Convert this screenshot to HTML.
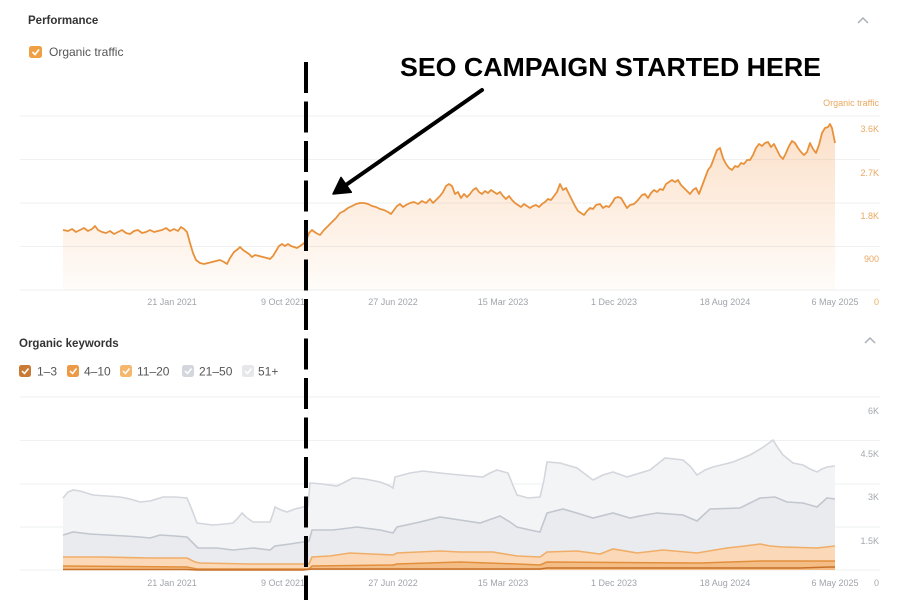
<!DOCTYPE html>
<html>
<head>
<meta charset="utf-8">
<style>
html,body{margin:0;padding:0;background:#fff;}
svg{display:block;font-family:"Liberation Sans",sans-serif;}
</style>
</head>
<body>
<svg width="900" height="600" viewBox="0 0 900 600" xmlns="http://www.w3.org/2000/svg">
<defs>
<linearGradient id="tg" x1="0" y1="0" x2="0" y2="1">
<stop offset="0" stop-color="#f6ad6e" stop-opacity="0.38"/>
<stop offset="1" stop-color="#f6ad6e" stop-opacity="0.04"/>
</linearGradient>
</defs>
<rect width="900" height="600" fill="#fff"/>

<!-- Performance header -->
<text x="28" y="24" font-size="11.5" font-weight="bold" fill="#333">Performance</text>
<polyline points="858,23 863,18 868,23" fill="none" stroke="#aab0b7" stroke-width="1.5"/>
<rect x="29" y="46" width="13" height="12" rx="2.5" fill="#f0a044"/>
<polyline points="32.5,52 35,54.5 39,49.5" fill="none" stroke="#fff" stroke-width="1.6"/>
<text x="49" y="56" font-size="12" fill="#555">Organic traffic</text>

<!-- top gridlines -->
<g stroke="#eef0f2" stroke-width="1">
<line x1="20" y1="116" x2="880" y2="116"/>
<line x1="20" y1="159.5" x2="880" y2="159.5"/>
<line x1="20" y1="203" x2="880" y2="203"/>
<line x1="20" y1="246.5" x2="880" y2="246.5"/>
<line x1="20" y1="290" x2="880" y2="290"/>
</g>
<g font-size="9" fill="#e9a860" text-anchor="end">
<text x="879" y="106">Organic traffic</text>
<text x="879" y="132">3.6K</text>
<text x="879" y="176">2.7K</text>
<text x="879" y="219">1.8K</text>
<text x="879" y="262">900</text>
<text x="879" y="305" fill="#e6b65a">0</text>
</g>
<g font-size="9" fill="#a0a4aa" text-anchor="middle">
<text x="172" y="305">21 Jan 2021</text>
<text x="283" y="305">9 Oct 2021</text>
<text x="393" y="305">27 Jun 2022</text>
<text x="503" y="305">15 Mar 2023</text>
<text x="614" y="305">1 Dec 2023</text>
<text x="725" y="305">18 Aug 2024</text>
<text x="835" y="305">6 May 2025</text>
</g>

<!-- traffic area -->
<path fill="url(#tg)" d="M63,230 L68,231 L72,229 L76,232 L80,230 L84,228 L88,231 L92,229 L95,226 L98,230 L102,232 L106,233 L110,231 L114,234 L118,232 L122,230 L126,233 L130,234 L134,231 L138,230 L142,233 L146,232 L150,230 L154,232 L158,231 L162,230 L166,228 L170,231 L174,229 L178,231 L181,227 L184,229 L187,232 L190,243 L193,253 L196,260 L200,263 L204,264 L208,263 L212,262 L216,261 L220,260 L224,262 L227,264 L230,258 L234,252 L238,249 L240,247 L243,250 L246,252 L249,254 L252,257 L255,255 L259,256 L263,257 L267,258 L270,259 L273,256 L276,251 L279,246 L282,244 L285,246 L288,244 L291,246 L294,247 L297,248 L300,246 L303,244 L306,241 L309,233 L312,230 L316,233 L320,235 L324,230 L328,226 L332,222 L336,218 L340,213 L344,211 L348,208 L352,206 L356,204 L360,203 L364,203 L368,204 L372,206 L376,207 L380,209 L384,210 L388,212 L391,214 L394,210 L397,206 L400,204 L403,207 L406,205 L410,203 L414,202 L418,204 L422,201 L426,203 L430,199 L433,203 L436,200 L440,196 L443,192 L446,186 L449,184 L452,186 L455,194 L458,192 L461,198 L464,194 L467,197 L470,194 L473,190 L476,188 L479,192 L482,194 L485,191 L488,193 L491,190 L494,192 L497,194 L500,192 L503,196 L506,199 L509,196 L512,200 L515,203 L518,205 L521,207 L524,204 L527,206 L530,208 L533,206 L536,205 L539,207 L542,204 L545,202 L548,199 L551,200 L554,196 L557,192 L560,184 L563,190 L566,188 L569,194 L572,200 L575,206 L578,211 L581,213 L584,215 L587,211 L590,208 L593,209 L596,205 L600,204 L603,208 L606,206 L609,207 L612,203 L615,198 L618,197 L621,198 L624,203 L627,208 L630,205 L634,204 L638,200 L642,195 L645,194 L648,198 L651,193 L654,190 L657,192 L660,189 L663,190 L666,184 L669,182 L672,180 L675,182 L678,180 L681,185 L684,188 L687,191 L690,194 L693,190 L696,188 L699,194 L702,186 L705,178 L708,170 L711,166 L714,158 L717,150 L720,148 L723,158 L726,164 L729,168 L732,170 L735,166 L738,167 L741,163 L744,164 L747,160 L750,160 L753,155 L756,148 L759,144 L762,146 L765,143 L768,142 L771,147 L774,144 L777,150 L780,156 L783,159 L786,153 L789,146 L792,141 L795,143 L798,148 L801,152 L804,155 L807,152 L810,143 L813,149 L816,153 L819,145 L822,133 L825,128 L828,127 L830,124 L832,128 L834,138 L835,143 L835,290 L63,290 Z"/>
<polyline fill="none" stroke="#e8913a" stroke-width="1.8" stroke-linejoin="round" points="63,230 68,231 72,229 76,232 80,230 84,228 88,231 92,229 95,226 98,230 102,232 106,233 110,231 114,234 118,232 122,230 126,233 130,234 134,231 138,230 142,233 146,232 150,230 154,232 158,231 162,230 166,228 170,231 174,229 178,231 181,227 184,229 187,232 190,243 193,253 196,260 200,263 204,264 208,263 212,262 216,261 220,260 224,262 227,264 230,258 234,252 238,249 240,247 243,250 246,252 249,254 252,257 255,255 259,256 263,257 267,258 270,259 273,256 276,251 279,246 282,244 285,246 288,244 291,246 294,247 297,248 300,246 303,244 306,241 309,233 312,230 316,233 320,235 324,230 328,226 332,222 336,218 340,213 344,211 348,208 352,206 356,204 360,203 364,203 368,204 372,206 376,207 380,209 384,210 388,212 391,214 394,210 397,206 400,204 403,207 406,205 410,203 414,202 418,204 422,201 426,203 430,199 433,203 436,200 440,196 443,192 446,186 449,184 452,186 455,194 458,192 461,198 464,194 467,197 470,194 473,190 476,188 479,192 482,194 485,191 488,193 491,190 494,192 497,194 500,192 503,196 506,199 509,196 512,200 515,203 518,205 521,207 524,204 527,206 530,208 533,206 536,205 539,207 542,204 545,202 548,199 551,200 554,196 557,192 560,184 563,190 566,188 569,194 572,200 575,206 578,211 581,213 584,215 587,211 590,208 593,209 596,205 600,204 603,208 606,206 609,207 612,203 615,198 618,197 621,198 624,203 627,208 630,205 634,204 638,200 642,195 645,194 648,198 651,193 654,190 657,192 660,189 663,190 666,184 669,182 672,180 675,182 678,180 681,185 684,188 687,191 690,194 693,190 696,188 699,194 702,186 705,178 708,170 711,166 714,158 717,150 720,148 723,158 726,164 729,168 732,170 735,166 738,167 741,163 744,164 747,160 750,160 753,155 756,148 759,144 762,146 765,143 768,142 771,147 774,144 777,150 780,156 783,159 786,153 789,146 792,141 795,143 798,148 801,152 804,155 807,152 810,143 813,149 816,153 819,145 822,133 825,128 828,127 830,124 832,128 834,138 835,143"/>

<!-- Organic keywords header -->
<text x="19" y="347" font-size="11.5" font-weight="bold" fill="#333">Organic keywords</text>
<polyline points="865,343 870,338 875,343" fill="none" stroke="#aab0b7" stroke-width="1.5"/>
<g font-size="12" fill="#555">
<rect x="19" y="365" width="12" height="12" rx="2.5" fill="#c97b36"/>
<polyline points="22,371 24.5,373.5 28.5,368.5" fill="none" stroke="#fff" stroke-width="1.5"/>
<text x="37" y="375.5">1–3</text>
<rect x="67" y="365" width="12" height="12" rx="2.5" fill="#ec9a46"/>
<polyline points="70,371 72.5,373.5 76.5,368.5" fill="none" stroke="#fff" stroke-width="1.5"/>
<text x="84" y="375.5">4–10</text>
<rect x="120" y="365" width="12" height="12" rx="2.5" fill="#f5b76e"/>
<polyline points="123,371 125.5,373.5 129.5,368.5" fill="none" stroke="#fff" stroke-width="1.5"/>
<text x="137" y="375.5">11–20</text>
<rect x="182" y="365" width="12" height="12" rx="2.5" fill="#d3d6dc"/>
<polyline points="185,371 187.5,373.5 191.5,368.5" fill="none" stroke="#fff" stroke-width="1.5"/>
<text x="199" y="375.5">21–50</text>
<rect x="242" y="365" width="12" height="12" rx="2.5" fill="#e5e7ea"/>
<polyline points="245,371 247.5,373.5 251.5,368.5" fill="none" stroke="#fff" stroke-width="1.5"/>
<text x="258" y="375.5">51+</text>
</g>

<!-- bottom gridlines -->
<g stroke="#eef0f2" stroke-width="1">
<line x1="20" y1="397" x2="880" y2="397"/>
<line x1="20" y1="440.5" x2="880" y2="440.5"/>
<line x1="20" y1="484" x2="880" y2="484"/>
<line x1="20" y1="527" x2="880" y2="527"/>
<line x1="20" y1="570" x2="880" y2="570"/>
</g>
<g font-size="9" fill="#a4a8ae" text-anchor="end">
<text x="879" y="414">6K</text>
<text x="879" y="457">4.5K</text>
<text x="879" y="500">3K</text>
<text x="879" y="544">1.5K</text>
<text x="879" y="586">0</text>
</g>
<g font-size="9" fill="#a0a4aa" text-anchor="middle">
<text x="172" y="586">21 Jan 2021</text>
<text x="283" y="586">9 Oct 2021</text>
<text x="393" y="586">27 Jun 2022</text>
<text x="503" y="586">15 Mar 2023</text>
<text x="614" y="586">1 Dec 2023</text>
<text x="725" y="586">18 Aug 2024</text>
<text x="835" y="586">6 May 2025</text>
</g>

<!-- 51+ -->
<path fill="#f3f4f6" d="M63,498 L68,492 L73,490 L80,491 L93,495 L107,496 L120,497 L130,499 L140,502 L150,501 L163,497 L175,497 L187,498 L192,510 L197,523 L213,525 L225,524 L233,523 L238,518 L242,513 L246,517 L253,522 L262,522 L270,522 L273,514 L275,507 L281,510 L287,512 L295,509 L303,507 L308,506 L310,483 L322,484 L337,486 L345,482 L353,478 L365,479 L380,482 L390,486 L393,488 L395,477 L410,473 L423,471 L440,473 L460,475 L483,477 L490,473 L497,470 L508,473 L512,483 L517,495 L528,498 L540,497 L544,480 L547,462 L560,463 L577,468 L585,474 L593,480 L603,475 L613,472 L627,477 L640,473 L650,470 L665,458 L683,460 L690,466 L697,475 L705,470 L713,467 L733,462 L750,455 L762,448 L773,440 L778,448 L783,455 L793,463 L803,465 L810,469 L817,472 L822,469 L827,467 L835,466 L835,570 L63,570 Z"/>
<polyline fill="none" stroke="#d3d6dc" stroke-width="1.6" points="63,498 68,492 73,490 80,491 93,495 107,496 120,497 130,499 140,502 150,501 163,497 175,497 187,498 192,510 197,523 213,525 225,524 233,523 238,518 242,513 246,517 253,522 262,522 270,522 273,514 275,507 281,510 287,512 295,509 303,507 308,506 310,483 322,484 337,486 345,482 353,478 365,479 380,482 390,486 393,488 395,477 410,473 423,471 440,473 460,475 483,477 490,473 497,470 508,473 512,483 517,495 528,498 540,497 544,480 547,462 560,463 577,468 585,474 593,480 603,475 613,472 627,477 640,473 650,470 665,458 683,460 690,466 697,475 705,470 713,467 733,462 750,455 762,448 773,440 778,448 783,455 793,463 803,465 810,469 817,472 822,469 827,467 835,466"/>

<!-- 21-50 -->
<path fill="#e9ebee" d="M63,535 L73,532 L90,534 L107,535 L125,536 L140,537 L150,538 L160,535 L175,536 L187,537 L193,543 L198,548 L217,548 L233,550 L253,548 L270,550 L275,546 L290,544 L303,542 L309,541 L312,530 L333,530 L357,527 L380,530 L393,533 L397,527 L420,522 L440,517 L460,520 L480,523 L500,516 L510,522 L517,527 L530,530 L540,532 L547,513 L563,509 L580,514 L593,518 L613,513 L630,518 L645,515 L657,513 L683,515 L697,521 L710,509 L740,508 L760,498 L775,497 L787,502 L803,503 L817,507 L827,498 L835,499 L835,570 L63,570 Z"/>
<polyline fill="none" stroke="#c2c7cf" stroke-width="1.6" points="63,535 73,532 90,534 107,535 125,536 140,537 150,538 160,535 175,536 187,537 193,543 198,548 217,548 233,550 253,548 270,550 275,546 290,544 303,542 309,541 312,530 333,530 357,527 380,530 393,533 397,527 420,522 440,517 460,520 480,523 500,516 510,522 517,527 530,530 540,532 547,513 563,509 580,514 593,518 613,513 630,518 645,515 657,513 683,515 697,521 710,509 740,508 760,498 775,497 787,502 803,503 817,507 827,498 835,499"/>

<!-- 11-20 -->
<path fill="#fbd9b8" d="M63,557 L100,557 L150,558 L187,558 L195,562 L200,563 L250,564 L303,564 L309,564 L312,557 L330,556 L350,553 L393,555 L397,553 L440,551 L460,552 L493,552 L517,556 L540,557 L547,552 L577,551 L600,554 L613,549 L637,553 L663,550 L697,553 L727,548 L745,546 L760,544 L770,546 L783,547 L817,548 L835,546 L835,570 L63,570 Z"/>
<polyline fill="none" stroke="#f0ad68" stroke-width="1.6" points="63,557 100,557 150,558 187,558 195,562 200,563 250,564 303,564 309,564 312,557 330,556 350,553 393,555 397,553 440,551 460,552 493,552 517,556 540,557 547,552 577,551 600,554 613,549 637,553 663,550 697,553 727,548 745,546 760,544 770,546 783,547 817,548 835,546"/>

<!-- 4-10 -->
<path fill="#f4bd85" d="M63,566 L187,567 L197,569 L303,569 L309,569 L312,566 L393,565 L397,564 L460,562 L517,564 L540,565 L547,562 L700,563 L760,561 L835,561 L835,570 L63,570 Z"/>
<polyline fill="none" stroke="#e28f3c" stroke-width="1.5" points="63,566 187,567 197,569 303,569 309,569 312,566 393,565 397,564 460,562 517,564 540,565 547,562 700,563 760,561 835,561"/>

<!-- 1-3 -->
<polyline fill="none" stroke="#c8702a" stroke-width="1.6" points="63,569.5 187,569.5 197,570 303,570 312,569 540,569 547,568 800,568 830,567 835,567"/>

<!-- annotation -->
<line x1="306" y1="62" x2="306" y2="600" stroke="#000" stroke-width="4" stroke-dasharray="31 8.5"/>
<line x1="482" y1="90" x2="343" y2="187" stroke="#000" stroke-width="4" stroke-linecap="round"/>
<polygon points="333,194 351.3,192.2 341,177.4" fill="#000" stroke="#000" stroke-width="1.5" stroke-linejoin="round"/>
<text x="400" y="76" font-size="26" font-weight="bold" fill="#000" textLength="421" lengthAdjust="spacingAndGlyphs">SEO CAMPAIGN STARTED HERE</text>
</svg>
</body>
</html>
